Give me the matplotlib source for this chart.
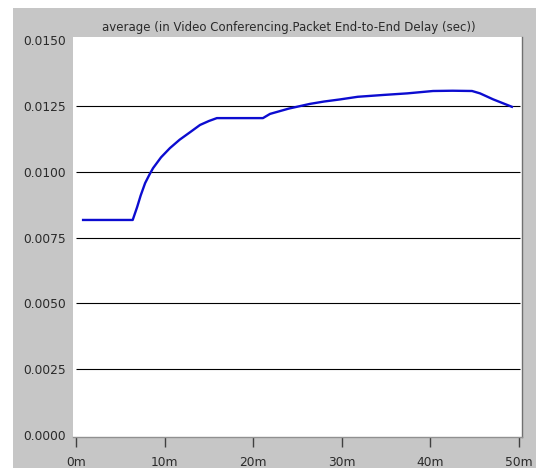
import matplotlib
matplotlib.use("Agg")
import matplotlib.pyplot as plt
from matplotlib.patches import Rectangle

# Average packet end-to-end delay over simulation time
time_min = [0.8, 6.4, 6.9, 7.3, 7.8, 8.3, 8.7, 9.6, 10.6, 11.7, 12.9, 14.0, 15.0, 15.9,
            21.1, 21.9, 24.0, 26.4, 28.0, 29.8, 31.8, 34.7, 37.4, 40.3, 42.5, 44.7,
            45.6, 47.1, 49.2]
delay_sec = [0.00817, 0.00817, 0.00866, 0.00910, 0.00957, 0.00990, 0.01014, 0.01055,
             0.01090, 0.01122, 0.01151, 0.01178, 0.01193, 0.01204, 0.01204, 0.01220,
             0.01240, 0.01258, 0.01267, 0.01275, 0.01285, 0.01292, 0.01298, 0.01307,
             0.01308, 0.01307, 0.01298, 0.01275, 0.01247]

y_ticks = [0.0, 0.0025, 0.005, 0.0075, 0.01, 0.0125, 0.015]
y_tick_labels = ["0.0000", "0.0025", "0.0050", "0.0075", "0.0100", "0.0125", "0.0150"]
x_ticks = [0, 10, 20, 30, 40, 50]
x_tick_labels = ["0m", "10m", "20m", "30m", "40m", "50m"]
title = "average (in Video Conferencing.Packet End-to-End Delay (sec))"

W, H = 536, 468
fig = plt.figure(figsize=(W / 100, H / 100), dpi=100, facecolor="white")

# grey panel behind the plot
fig.patches.append(Rectangle((13 / W, 0), (W - 13) / W, (H - 8) / H,
                             transform=fig.transFigure, facecolor="#c6c6c6",
                             edgecolor="none", zorder=-5))

ax = fig.add_axes([73 / W, (H - 437) / H, (522 - 73) / W, (437 - 37) / H])
ax.set_zorder(1)
ax.set_facecolor("white")

px_per_min = (519 - 76) / 50
ax.set_xlim(-3 / px_per_min, 50 + 3 / px_per_min)
px_per_unit = 65.8 / 0.0025
ax.set_ylim(-2 / px_per_unit, (435 - 37) / px_per_unit)

# horizontal grid lines
ax.hlines(y_ticks[1:-1], 0, 50.1, colors="black", linewidth=0.8, zorder=1)

ax.plot(time_min, delay_sec, color="#0c0cd0", linewidth=1.7, zorder=3,
        solid_joinstyle="round")

for side in ("top", "left"):
    ax.spines[side].set_visible(False)
ax.spines["right"].set_color("#707070")
ax.spines["right"].set_linewidth(1.0)
ax.spines["bottom"].set_color("#909090")
ax.spines["bottom"].set_linewidth(1.0)

ax.set_yticks(y_ticks)
ax.set_yticklabels(y_tick_labels)
ax.set_xticks(x_ticks)
ax.set_xticklabels(x_tick_labels)
ax.tick_params(axis="y", length=0, pad=5, labelsize=8.8, labelcolor="#2a2a2a")
ax.tick_params(axis="x", length=7, width=1, color="#404040", pad=7,
               labelsize=8.8, labelcolor="#2a2a2a")

fig.text(289 / W, 1 - 28 / H, title, ha="center", va="center",
         fontsize=8.5, color="#2a2a2a", zorder=5)

fig.savefig("out.png", dpi=100, facecolor=fig.get_facecolor())
